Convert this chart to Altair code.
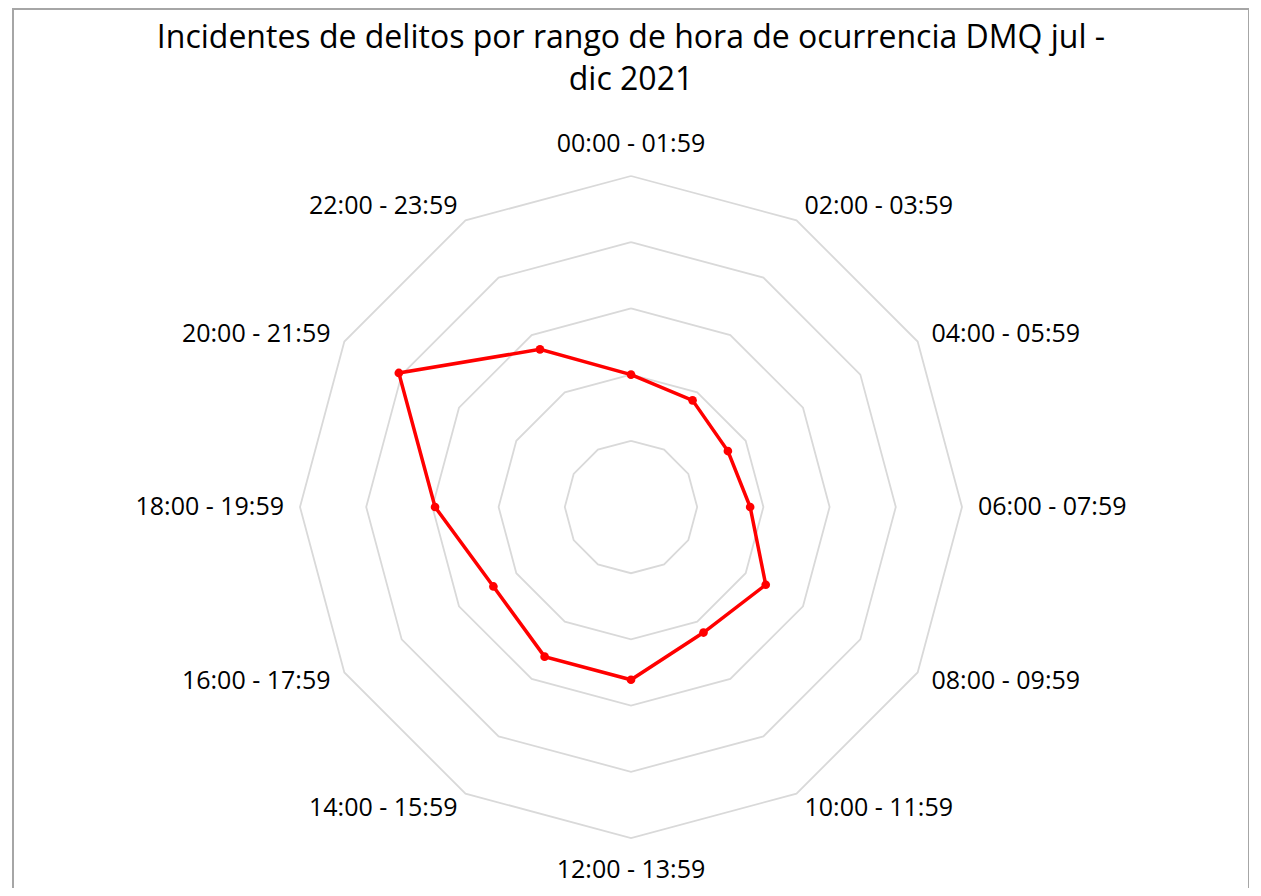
import math
import altair as alt
import pandas as pd

# ---- data ----
categories = ["00:00 - 01:59", "02:00 - 03:59", "04:00 - 05:59", "06:00 - 07:59",
              "08:00 - 09:59", "10:00 - 11:59", "12:00 - 13:59", "14:00 - 15:59",
              "16:00 - 17:59", "18:00 - 19:59", "20:00 - 21:59", "22:00 - 23:59"]
values = [1000, 930, 845, 900, 1175, 1095, 1305, 1305, 1200, 1480, 2025, 1375]
grid_levels = [500, 1000, 1500, 2000, 2500]
title_lines = ["Incidentes de delitos por rango de hora de ocurrencia DMQ jul -", "dic 2021"]

M = grid_levels[-1]
N = len(categories)

# ---- layout (pixels) ----
W, H = 1236, 880
CX, CY = 618, 499
R = 331.0
u = M / R  # data units per pixel
xdom = [-CX * u, (W - CX) * u]
ydom = [-(H - CY) * u, CY * u]

FONT = "Open Sans"

xs = alt.Scale(domain=xdom, nice=False, zero=False)
ys = alt.Scale(domain=ydom, nice=False, zero=False)
noax = None

# tables built from the arrays
series = pd.DataFrame({"cat": categories + [categories[0]],
                       "value": values + [values[0]],
                       "idx": list(range(N)) + [N]})
grid = pd.DataFrame([{"level": lv, "idx": i} for lv in grid_levels for i in range(N + 1)])
labels = pd.DataFrame({"cat": categories, "idx": list(range(N))})
ttl = pd.DataFrame({"t": ["\n".join(title_lines)]})

ang = f"datum.idx * 2 * PI / {N}"

border = alt.Chart(ttl).mark_rect(fill="white", stroke="#a6a6a6", strokeWidth=2).encode(
    x=alt.value(0), x2=alt.value(W), y=alt.value(1), y2=alt.value(H + 20))

grid_layer = alt.Chart(grid).transform_calculate(
    gx=f"datum.level * sin({ang})", gy=f"datum.level * cos({ang})"
).mark_line(color="#d9d9d9", strokeWidth=1.8).encode(
    x=alt.X("gx:Q", scale=xs, axis=noax),
    y=alt.Y("gy:Q", scale=ys, axis=noax),
    detail="level:N", order="idx:Q")

line_layer = alt.Chart(series).transform_calculate(
    px=f"datum.value * sin({ang})", py=f"datum.value * cos({ang})"
).mark_line(color="#ff0000", strokeWidth=3.5).encode(
    x=alt.X("px:Q", scale=xs, axis=noax),
    y=alt.Y("py:Q", scale=ys, axis=noax),
    order="idx:Q")

pt_layer = alt.Chart(series).transform_filter(f"datum.idx < {N}").transform_calculate(
    px=f"datum.value * sin({ang})", py=f"datum.value * cos({ang})"
).mark_circle(color="#ff0000", size=75, opacity=1).encode(
    x=alt.X("px:Q", scale=xs, axis=noax),
    y=alt.Y("py:Q", scale=ys, axis=noax))

def lab(filt, align):
    return alt.Chart(labels).transform_calculate(
        s=f"sin({ang})", c=f"cos({ang})"
    ).transform_calculate(
        rl=f"abs(datum.s) < 0.01 ? {M * 363 / R} : {M * 347 / R}"
    ).transform_calculate(
        lx="datum.rl * datum.s", ly="datum.rl * datum.c"
    ).transform_filter(filt).mark_text(
        align=align, baseline="middle", font=FONT, fontSize=25, color="#000000"
    ).encode(
        x=alt.X("lx:Q", scale=xs, axis=noax),
        y=alt.Y("ly:Q", scale=ys, axis=noax),
        text="cat:N")

lab_c = lab("abs(datum.s) < 0.01", "center")
lab_l = lab("datum.s >= 0.01", "left")
lab_r = lab("datum.s <= -0.01", "right")

title_layer = alt.Chart(ttl).mark_text(
    align="center", baseline="alphabetic", font=FONT, fontSize=32, lineHeight=42,
    lineBreak="\n", color="#000000"
).encode(x=alt.value(CX), y=alt.value(40), text="t:N")

chart = alt.layer(border, grid_layer, line_layer, pt_layer, lab_c, lab_l, lab_r, title_layer).properties(
    width=W, height=H,
    autosize=alt.AutoSizeParams(type="none"),
    padding={"left": 5, "top": 0, "right": 0, "bottom": 0},
).configure_view(stroke=None)

chart.save("out.html", embed_options={"renderer": "svg", "actions": False})
